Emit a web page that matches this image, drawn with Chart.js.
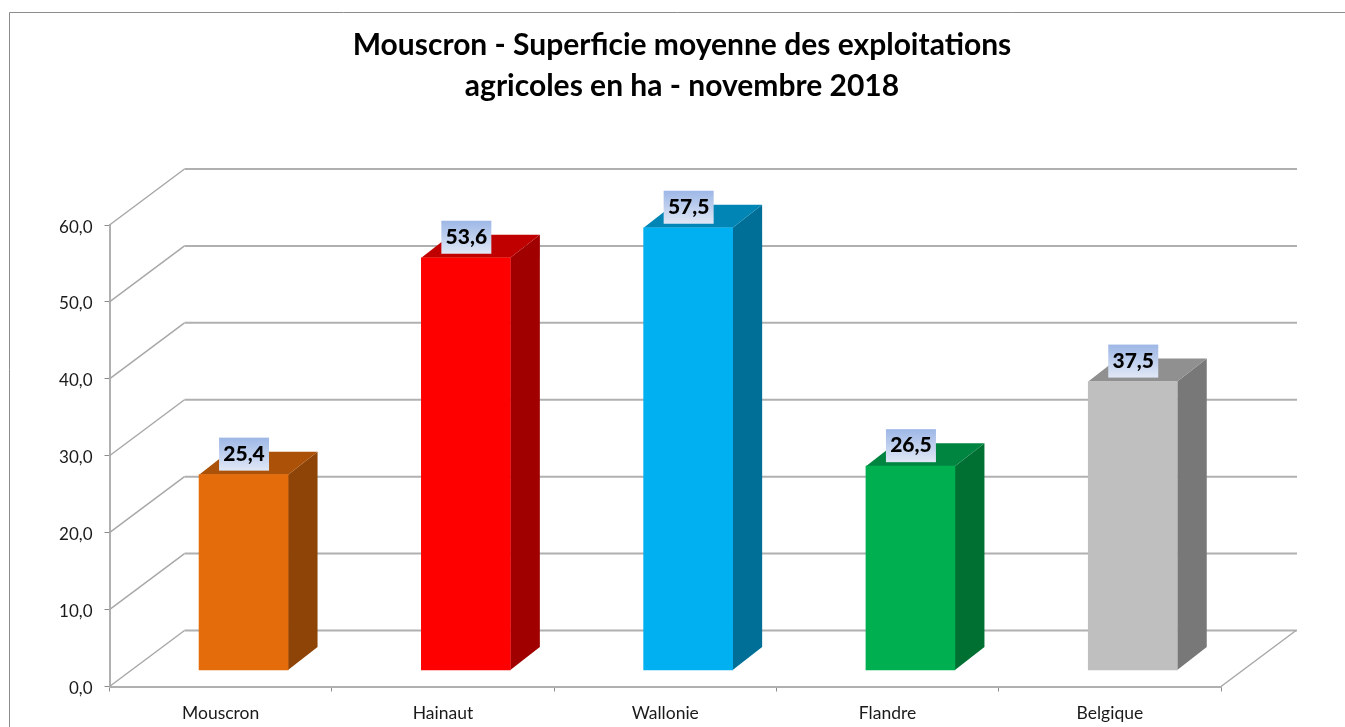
<!DOCTYPE html>
<html>
<head>
<meta charset="utf-8">
<title>Mouscron - Superficie moyenne</title>
<script src="https://cdn.jsdelivr.net/npm/chart.js@4/dist/chart.umd.min.js"></script>
<style>
    html, body { margin: 0; padding: 0; background: #fff; overflow: hidden; }
    canvas { display: block; }
</style>
</head>
<body>
<canvas id="chart" width="1345" height="727"></canvas>
<script>
const titleLines = ['Mouscron - Superficie moyenne des exploitations', 'agricoles en ha - novembre 2018'];
const categories = ['Mouscron', 'Hainaut', 'Wallonie', 'Flandre', 'Belgique'];
const values = [25.4, 53.6, 57.5, 26.5, 37.5];
const frontColors = ['#E46C0A', '#FF0000', '#00B0F0', '#00B050', '#BFBFBF'];
const sideColors = ['#8F4407', '#A00000', '#006F97', '#006F32', '#787878'];
const topColors = ['#AB5108', '#C00000', '#0085B5', '#008540', '#909090'];

const gridColor = '#b0b0b0';
const slantColor = '#a8a8a8';

// wall depth and bar depth of the fake 3D look
const wallDx = 75, wallDy = 56;
const barDx = 29.5, barDy = 23;

function formatValue(v) {
    return v.toFixed(1).replace('.', ',');
}

function poly(ctx, points, color) {
    ctx.fillStyle = color;
    ctx.beginPath();
    points.forEach((p, i) => i ? ctx.lineTo(p[0], p[1]) : ctx.moveTo(p[0], p[1]));
    ctx.closePath();
    ctx.fill();
}

const framePlugin = {
    id: 'frame',
    beforeDraw(chart) {
        const ctx = chart.ctx;
        ctx.save();
        ctx.strokeStyle = '#8c8c8c';
        ctx.lineWidth = 1;
        ctx.beginPath();
        ctx.moveTo(9.5, 727);
        ctx.lineTo(9.5, 12.5);
        ctx.lineTo(1345, 12.5);
        ctx.stroke();
        ctx.restore();
    }
};

const wallsPlugin = {
    id: 'walls',
    beforeDatasetsDraw(chart) {
        const ctx = chart.ctx;
        const area = chart.chartArea;
        const yScale = chart.scales.y;
        ctx.save();
        yScale.ticks.forEach(t => {
            const py = yScale.getPixelForValue(t.value);
            ctx.strokeStyle = slantColor;
            ctx.lineWidth = 1.5;
            ctx.beginPath();
            ctx.moveTo(area.left, py);
            ctx.lineTo(area.left + wallDx, py - wallDy);
            ctx.stroke();
            ctx.strokeStyle = gridColor;
            ctx.lineWidth = 2;
            ctx.beginPath();
            ctx.moveTo(area.left + wallDx, py - wallDy);
            ctx.lineTo(area.right + wallDx + 1, py - wallDy);
            ctx.stroke();
        });
        ctx.strokeStyle = slantColor;
        ctx.lineWidth = 1.5;
        ctx.beginPath();
        ctx.moveTo(area.right, area.bottom);
        ctx.lineTo(area.right + wallDx, area.bottom - wallDy);
        ctx.stroke();

        // side and top faces, front face comes from the bar itself
        chart.getDatasetMeta(0).data.forEach((bar, i) => {
            const p = bar.getProps(['x', 'y', 'base', 'width'], true);
            const l = p.x - p.width / 2;
            const r = p.x + p.width / 2;
            poly(ctx, [[r, p.y], [r + barDx, p.y - barDy], [r + barDx, p.base - barDy], [r, p.base]], sideColors[i]);
            poly(ctx, [[l, p.y], [l + barDx, p.y - barDy], [r + barDx, p.y - barDy], [r, p.y]], topColors[i]);
        });
        ctx.restore();
    }
};

const valueBoxPlugin = {
    id: 'valueBox',
    afterDatasetsDraw(chart) {
        const ctx = chart.ctx;
        ctx.save();
        chart.getDatasetMeta(0).data.forEach((bar, i) => {
            const p = bar.getProps(['x', 'y'], true);
            const w = 50, h = 33;
            const left = p.x - w / 2 + 0.5;
            const top = p.y - 4 - h;
            const grad = ctx.createLinearGradient(0, top, 0, top + h);
            grad.addColorStop(0, '#9DB7E6');
            grad.addColorStop(1, '#E1E8F6');
            ctx.fillStyle = grad;
            ctx.fillRect(left, top, w, h);
            ctx.fillStyle = '#000';
            ctx.font = '900 21px Lato';
            ctx.textAlign = 'center';
            ctx.textBaseline = 'middle';
            ctx.fillText(formatValue(values[i]), left + w / 2, top + h / 2);
        });
        ctx.restore();
    }
};

new Chart(document.getElementById('chart'), {
    type: 'bar',
    data: {
        labels: categories,
        datasets: [{
            data: values.map((v, i) => ({ x: i, y: v })),
            backgroundColor: frontColors,
            borderWidth: 0,
            barThickness: 89,
            xAxisID: 'x2',
            yAxisID: 'y2'
        }]
    },
    plugins: [framePlugin, wallsPlugin, valueBoxPlugin],
    options: {
        responsive: false,
        animation: false,
        layout: { padding: { left: 19, right: 0, top: 0, bottom: 0 } },
        plugins: {
            legend: { display: false },
            tooltip: { enabled: false },
            title: {
                display: true,
                text: titleLines,
                color: '#000',
                font: { family: 'Lato', size: 30, weight: 'bold', lineHeight: 1.367 },
                padding: { top: 25, bottom: 118 }
            }
        },
        scales: {
            x: {
                type: 'category',
                offset: true,
                grid: { offset: true, drawOnChartArea: false, tickLength: 5, tickColor: '#8c8c8c', tickWidth: 1 },
                border: { color: gridColor, width: 2 },
                ticks: { color: '#1a1a1a', font: { family: 'Lato', size: 17.5 }, padding: 11, maxRotation: 0 },
                afterFit(s) { s.height = 40.5; }
            },
            y: {
                type: 'linear',
                min: 0,
                max: 60,
                grid: { drawOnChartArea: false, tickLength: 5, tickColor: '#8c8c8c', tickWidth: 1 },
                border: { color: gridColor, width: 2 },
                ticks: {
                    stepSize: 10,
                    color: '#1a1a1a',
                    font: { family: 'Lato', size: 17 },
                    padding: 12,
                    labelOffset: 2,
                    callback: v => formatValue(v)
                },
                afterFit(s) { s.width = 90.5; }
            },
            // hidden axes that put the bars back from the front edge
            x2: { type: 'linear', display: false, offset: false, min: -0.603, max: 4.397 },
            y2: {
                type: 'linear',
                position: 'right',
                min: -2.145,
                max: 57.855,
                grid: { display: false },
                border: { display: false },
                ticks: { display: false },
                afterFit(s) { s.width = 124; }
            }
        }
    }
});
</script>
</body>
</html>
